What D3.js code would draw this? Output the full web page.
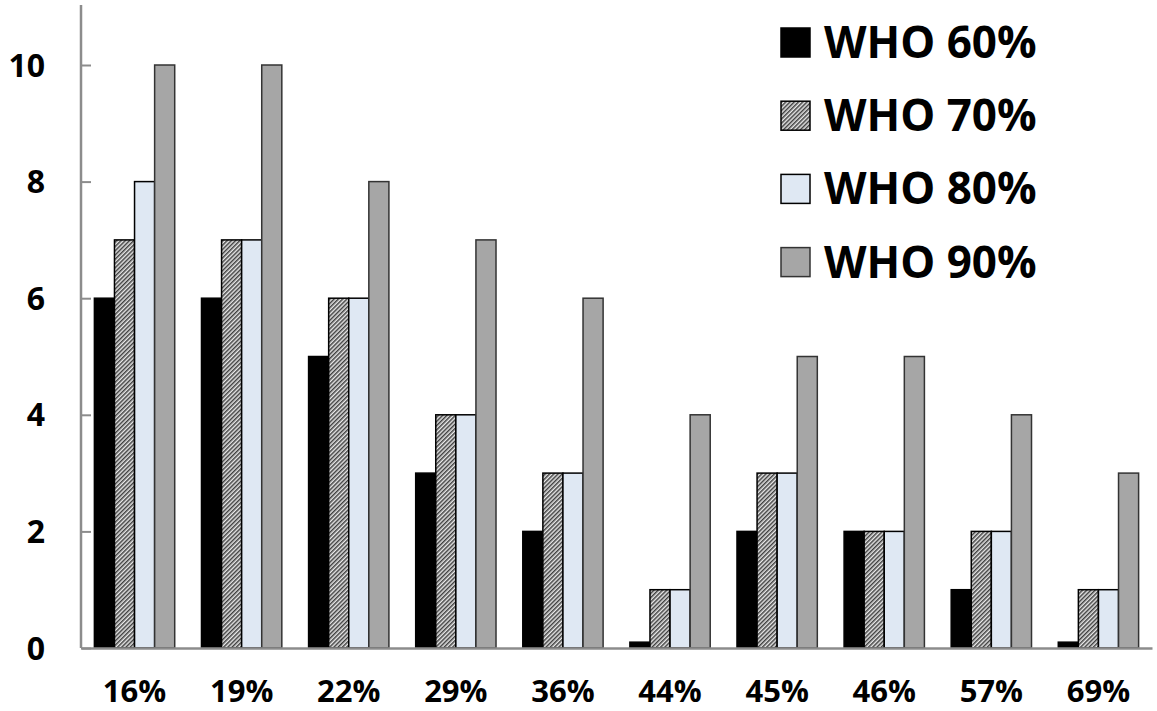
<!DOCTYPE html>
<html>
<head>
<meta charset="utf-8">
<script src="https://cdn.jsdelivr.net/npm/d3@7"></script>
<style>
  html, body { margin: 0; padding: 0; background: #fff; }
  svg { display: block; }
  text { font-family: "Open Sans", "DejaVu Sans", sans-serif; font-weight: bold; fill: #000; }
</style>
</head>
<body>
<svg id="chart" width="1157" height="711"></svg>
<script>
const categories = ["16%", "19%", "22%", "29%", "36%", "44%", "45%", "46%", "57%", "69%"];
const seriesNames = ["WHO 60%", "WHO 70%", "WHO 80%", "WHO 90%"];
const who60 = [6, 6, 5, 3, 2, 0.1, 2, 2, 1, 0.1];
const who70 = [7, 7, 6, 4, 3, 1, 3, 2, 2, 1];
const who80 = [8, 7, 6, 4, 3, 1, 3, 2, 2, 1];
const who90 = [10, 10, 8, 7, 6, 4, 5, 5, 4, 3];
const yTicks = [0, 2, 4, 6, 8, 10];

const seriesValues = [who60, who70, who80, who90];

const svg = d3.select("#chart");
const defs = svg.append("defs");
const pat = defs.append("pattern")
  .attr("id", "hatch")
  .attr("patternUnits", "userSpaceOnUse")
  .attr("width", 3).attr("height", 3)
  .attr("patternTransform", "rotate(45)");
pat.append("rect").attr("width", 3).attr("height", 3).attr("fill", "#e8e8e8");
pat.append("rect").attr("width", 1.5).attr("height", 3).attr("fill", "#404040");

const fills = ["#000000", "url(#hatch)", "#dfe8f3", "#a6a6a6"];
const strokes = ["#000000", "#000000", "#000000", "#333333"];

const axisX = 81, baseY = 648;
const x = d3.scaleBand().domain(categories).range([axisX, 1152]).paddingInner(0.25).paddingOuter(0.125);
const xs = d3.scaleBand().domain(seriesNames).range([0, x.bandwidth()]);
const y = d3.scaleLinear().domain([0, 11]).range([baseY, baseY - 11 * 58.3]);

// bars
seriesNames.forEach((s, si) => {
  svg.append("g").selectAll("rect")
    .data(categories.map((c, i) => ({ c, v: seriesValues[si][i] })))
    .join("rect")
    .attr("x", d => x(d.c) + xs(s))
    .attr("y", d => y(d.v))
    .attr("width", xs.bandwidth())
    .attr("height", d => y(0) - y(d.v))
    .attr("fill", fills[si])
    .attr("stroke", strokes[si])
    .attr("stroke-width", 1.5);
});

// y axis
const yAxis = d3.axisRight(y).tickValues(yTicks).tickSize(10).tickFormat("");
const gy = svg.append("g").attr("transform", `translate(${axisX},0)`).call(yAxis);
gy.select(".domain").remove();
gy.selectAll(".tick line").attr("stroke", "#8c8c8c").attr("stroke-width", 2);
svg.append("line").attr("x1", axisX).attr("x2", axisX).attr("y1", 5).attr("y2", baseY)
  .attr("stroke", "#8c8c8c").attr("stroke-width", 2.5);

svg.append("g").selectAll("text").data(yTicks).join("text")
  .attr("x", 45).attr("y", d => y(d)).attr("dy", "0.36em")
  .attr("text-anchor", "end").attr("font-size", 32)
  .text(d => d);

// x axis
const xAxis = d3.axisBottom(x).tickSize(0).tickFormat("");
const gx = svg.append("g").attr("transform", `translate(0,${baseY})`).call(xAxis);
gx.select(".domain").attr("stroke", "#8c8c8c").attr("stroke-width", 2.5);

svg.append("g").selectAll("text").data(categories).join("text")
  .attr("x", d => x(d) + x.bandwidth() / 2).attr("y", 702)
  .attr("text-anchor", "middle").attr("font-size", 31)
  .text(d => d);

// legend
const leg = svg.append("g");
seriesNames.forEach((s, i) => {
  const top = 28 + i * 73.2;
  leg.append("rect").attr("x", 781).attr("y", top).attr("width", 29).attr("height", 29)
    .attr("fill", fills[i]).attr("stroke", strokes[i]).attr("stroke-width", 1.5);
  leg.append("text").attr("x", 824).attr("y", top + 30).attr("font-size", 44).text(s);
});
</script>
</body>
</html>
